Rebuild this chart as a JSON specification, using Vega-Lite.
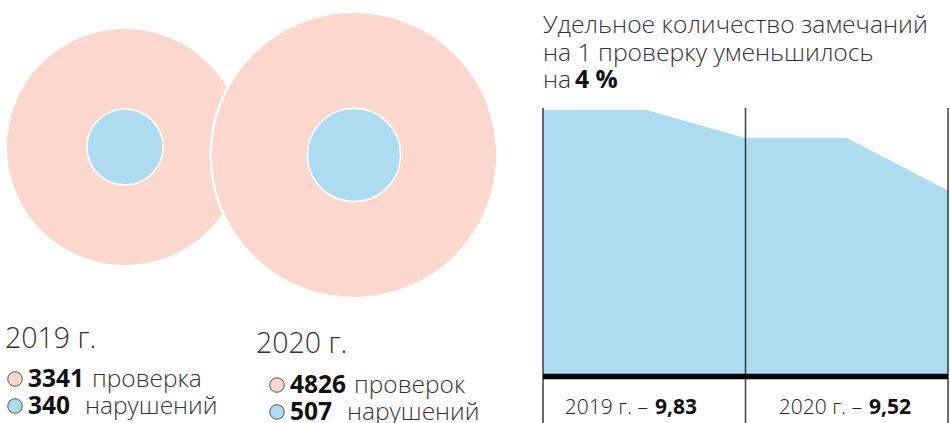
{
  "$schema": "https://vega.github.io/schema/vega-lite/v6.json",
  "padding": 0,
  "background": "white",
  "spacing": 0,
  "bounds": "flush",
  "config": {
    "view": {"stroke": null},
    "font": "Open Sans",
    "locale": {"number": {"decimal": ",", "thousands": " ", "grouping": [3], "currency": ["", " ₽"]}}
  },
  "datasets": {
    "years": [
      {"year": "2019", "label": "2019 г.", "checks": 3341, "checksWord": "проверка", "violations": 340, "violationsWord": "нарушений", "rateLabel": "2019 г. –", "rate": 9.83},
      {"year": "2020", "label": "2020 г.", "checks": 4826, "checksWord": "проверок", "violations": 507, "violationsWord": "нарушений", "rateLabel": "2020 г. –", "rate": 9.52}
    ],
    "trend": [
      {"pos": 0, "value": 9.83},
      {"pos": 0.51, "value": 9.83},
      {"pos": 1, "value": 9.52},
      {"pos": 1.5, "value": 9.52},
      {"pos": 2, "value": 8.94}
    ],
    "dividers": [{"pos": 0}, {"pos": 1}, {"pos": 2}],
    "baseline": [{"level": 6.88}],
    "titleLines": [
      {"line": 1, "text": "Удельное количество замечаний"},
      {"line": 2, "text": "на 1 проверку уменьшилось"},
      {"line": 3, "text": "на"}
    ],
    "titleBold": [{"line": 3, "text": "4 %"}]
  },
  "hconcat": [
    {
      "width": 543,
      "height": 423,
      "data": {"name": "years"},
      "layer": [
        {
          "encoding": {
            "x": {"field": "year", "type": "nominal", "scale": {"type": "point", "range": [125, 354], "padding": 0}, "axis": null},
            "y": {"field": "year", "type": "nominal", "scale": {"type": "point", "range": [147, 155], "padding": 0}, "axis": null}
          },
          "layer": [
            {
              "mark": {"type": "point", "shape": "circle", "filled": true, "fill": "#FBD7CE", "stroke": "white", "strokeWidth": 2.5, "opacity": 1},
              "encoding": {"size": {"field": "checks", "type": "quantitative", "scale": {"type": "linear", "domain": [0, 5000], "range": [0, 85150], "zero": true}, "legend": null}}
            },
            {
              "mark": {"type": "point", "shape": "circle", "filled": true, "fill": "#ADDBF0", "stroke": "white", "strokeWidth": 1.5, "opacity": 1},
              "encoding": {"size": {"field": "violations", "type": "quantitative", "legend": null}}
            }
          ]
        },
        {
          "mark": {"type": "text", "align": "left", "baseline": "alphabetic", "fontSize": 28.5, "fontWeight": 300, "color": "#333333"},
          "encoding": {
            "x": {"field": "year", "type": "nominal", "scale": {"type": "point", "range": [5, 256], "padding": 0}, "axis": null},
            "y": {"field": "year", "type": "nominal", "scale": {"type": "point", "range": [348, 353], "padding": 0}, "axis": null},
            "text": {"field": "label"}
          }
        },
        {
          "encoding": {
            "x": {"field": "year", "type": "nominal", "scale": {"type": "point", "range": [28, 290], "padding": 0}, "axis": null},
            "y": {"field": "year", "type": "nominal", "scale": {"type": "point", "range": [387, 393], "padding": 0}, "axis": null}
          },
          "layer": [
            {"mark": {"type": "point", "shape": "circle", "filled": true, "fill": "#FBD7CE", "stroke": "#555555", "strokeWidth": 1, "size": 210, "opacity": 1, "xOffset": -13, "yOffset": -8}},
            {"mark": {"type": "point", "shape": "circle", "filled": true, "fill": "#ADDBF0", "stroke": "#555555", "strokeWidth": 1, "size": 210, "opacity": 1, "xOffset": -13, "yOffset": 19}},
            {
              "mark": {"type": "text", "align": "left", "baseline": "alphabetic", "fontSize": 24.5, "fontWeight": "bold", "color": "#111111"},
              "encoding": {"text": {"field": "checks", "type": "quantitative", "format": "d"}}
            },
            {
              "mark": {"type": "text", "align": "left", "baseline": "alphabetic", "fontSize": 24.5, "fontWeight": 300, "color": "#333333", "dx": 64},
              "encoding": {"text": {"field": "checksWord"}}
            },
            {
              "mark": {"type": "text", "align": "left", "baseline": "alphabetic", "fontSize": 24.5, "fontWeight": "bold", "color": "#111111", "dy": 27},
              "encoding": {"text": {"field": "violations", "type": "quantitative", "format": "d"}}
            },
            {
              "mark": {"type": "text", "align": "left", "baseline": "alphabetic", "fontSize": 24.5, "fontWeight": 300, "color": "#333333", "dx": 57, "dy": 27},
              "encoding": {"text": {"field": "violationsWord"}}
            }
          ]
        }
      ],
      "resolve": {"scale": {"x": "independent", "y": "independent"}}
    },
    {
      "width": 405,
      "height": 423,
      "layer": [
        {
          "layer": [
            {
              "layer": [
                {
                  "data": {"name": "trend"},
                  "mark": {"type": "area", "color": "#ADDBF0", "opacity": 1},
                  "encoding": {
                    "x": {"field": "pos", "type": "quantitative", "scale": {"domain": [0, 2], "nice": false, "zero": false}, "axis": null},
                    "y": {"field": "value", "type": "quantitative", "scale": {"domain": [6.3646, 11.0479], "nice": false, "zero": false}, "axis": null},
                    "y2": {"datum": 6.88}
                  }
                },
                {
                  "data": {"name": "dividers"},
                  "mark": {"type": "rule", "color": "#3a3a3a", "strokeWidth": 1.5},
                  "encoding": {
                    "x": {"field": "pos", "type": "quantitative"},
                    "y": {"datum": 9.852},
                    "y2": {"datum": 6.3646}
                  }
                },
                {
                  "data": {"name": "baseline"},
                  "mark": {"type": "rule", "color": "#000000", "strokeWidth": 5.5},
                  "encoding": {
                    "x": {"datum": 0},
                    "x2": {"datum": 2},
                    "y": {"field": "level", "type": "quantitative"}
                  }
                }
              ]
            },
            {
              "encoding": {
                "x": {"datum": 0},
                "y": {"field": "line", "type": "ordinal", "scale": {"type": "point", "range": [33, 88], "padding": 0}, "axis": null}
              },
              "layer": [
                {
                  "data": {"name": "titleLines"},
                  "mark": {"type": "text", "align": "left", "baseline": "alphabetic", "fontSize": 24.7, "fontWeight": 300, "color": "#333333"},
                  "encoding": {"text": {"field": "text"}}
                },
                {
                  "data": {"name": "titleBold"},
                  "mark": {"type": "text", "align": "left", "baseline": "alphabetic", "fontSize": 24.7, "fontWeight": "bold", "color": "#111111", "dx": 32},
                  "encoding": {"text": {"field": "text"}}
                }
              ]
            }
          ],
          "resolve": {"scale": {"y": "independent"}}
        },
        {
          "data": {"name": "years"},
          "encoding": {
            "x": {"field": "year", "type": "nominal", "scale": {"type": "point", "range": [109, 323], "padding": 0}, "axis": null},
            "y": {"field": "year", "type": "nominal", "scale": {"type": "point", "range": [414, 414], "padding": 0}, "axis": null}
          },
          "layer": [
            {
              "mark": {"type": "text", "align": "right", "baseline": "alphabetic", "fontSize": 21, "fontWeight": 300, "color": "#222222", "dx": -4},
              "encoding": {"text": {"field": "rateLabel"}}
            },
            {
              "mark": {"type": "text", "align": "left", "baseline": "alphabetic", "fontSize": 21, "fontWeight": "bold", "color": "#111111", "dx": 3},
              "encoding": {"text": {"field": "rate", "type": "quantitative", "format": ".2f"}}
            }
          ]
        }
      ],
      "resolve": {"scale": {"x": "independent", "y": "independent"}}
    }
  ]
}
